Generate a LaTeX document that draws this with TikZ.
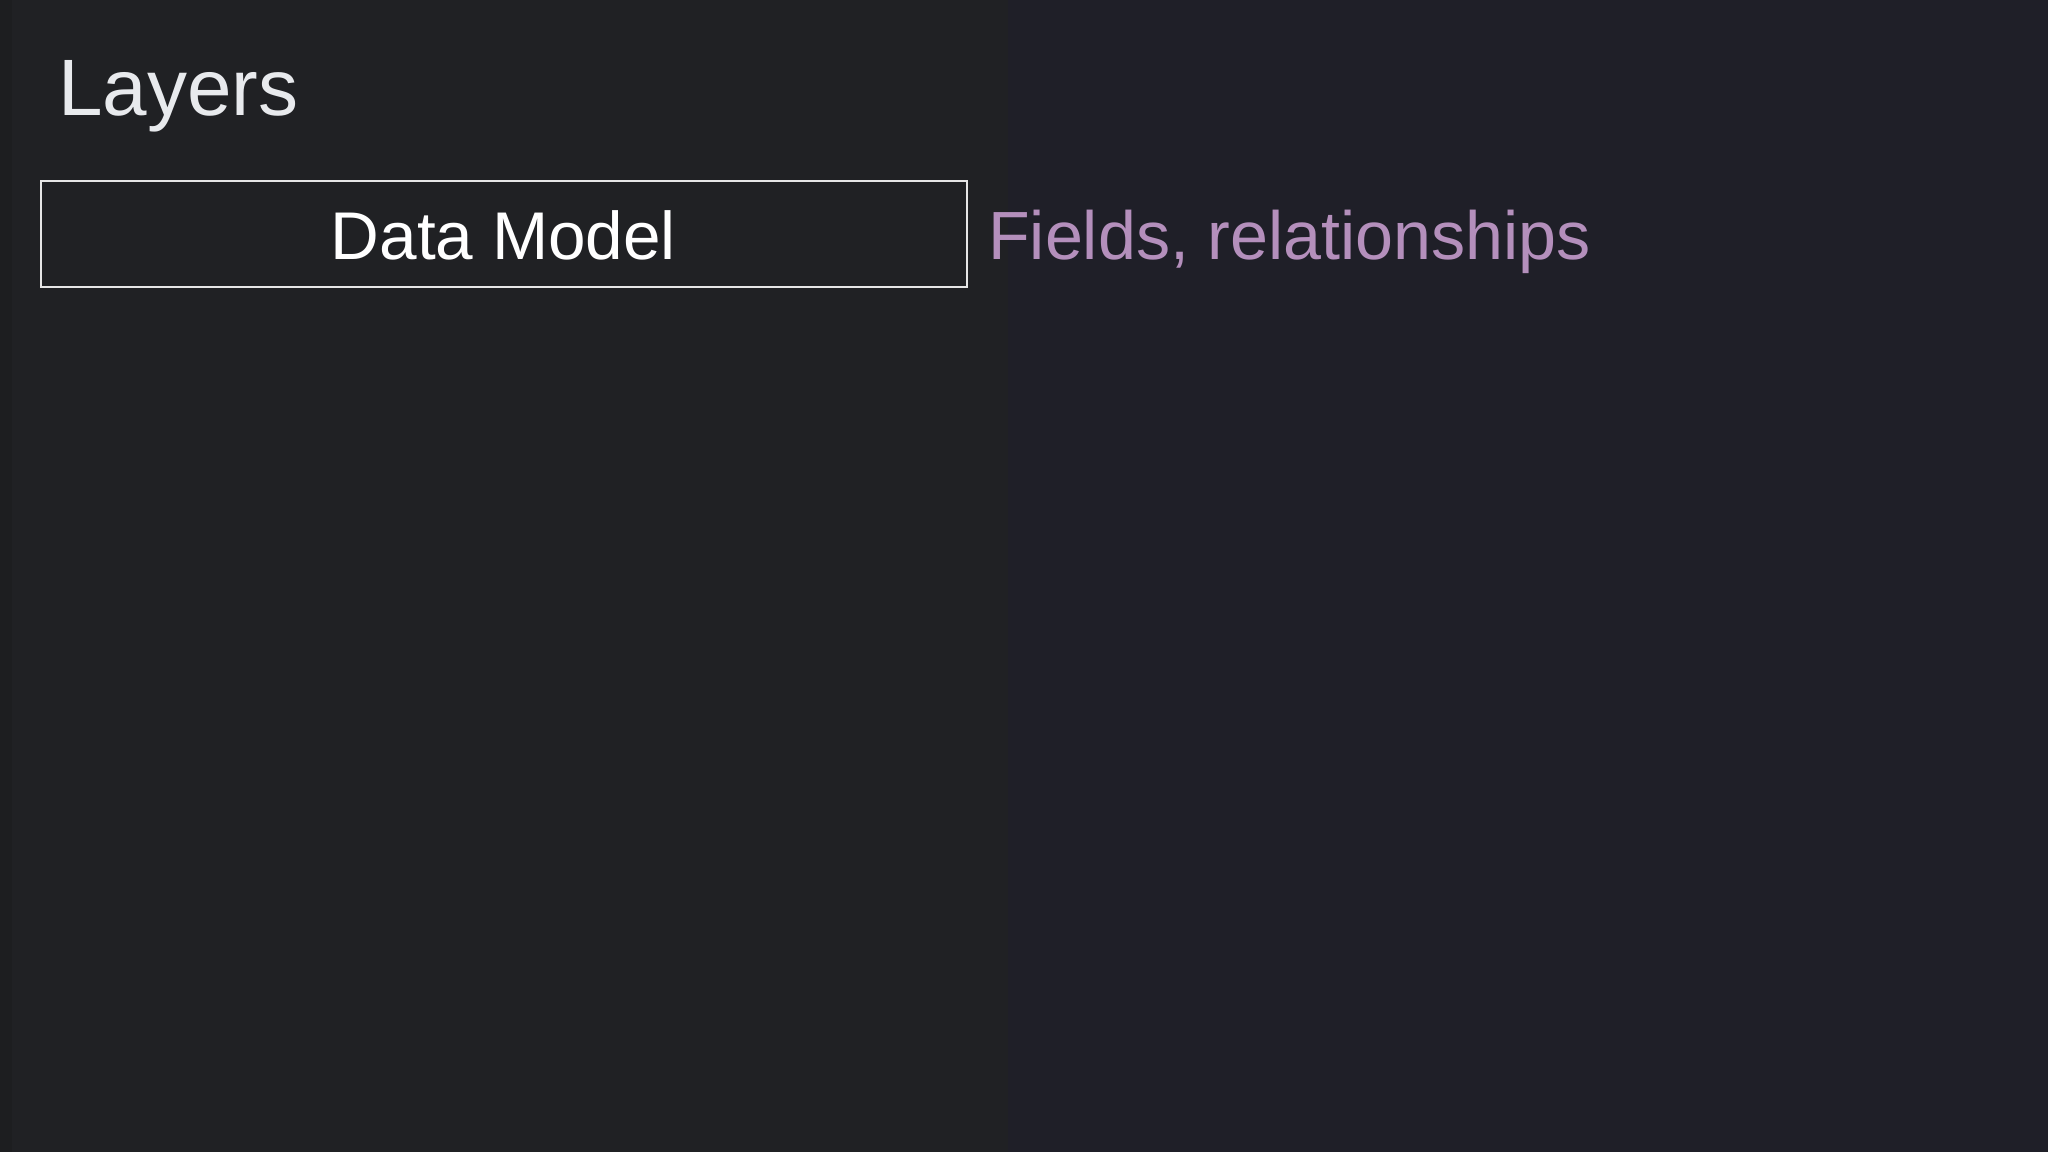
\documentclass[tikz,border=0pt]{standalone}
\usepackage{fontspec}
\setmainfont{Liberation Sans}
\definecolor{bgleft}{HTML}{202124}
\definecolor{bgright}{HTML}{1F1F28}
\definecolor{bgedge}{HTML}{1D1E20}
\definecolor{titlecol}{HTML}{E8EAED}
\definecolor{notecol}{HTML}{B48FBC}
\definecolor{boxline}{HTML}{E6E6E6}
\tikzset{
  layerbox/.style={draw=boxline, line width=2pt, fill=bgleft, inner sep=0pt,
    minimum width=926pt, minimum height=106pt, text=white,
    text height=50pt, text depth=0pt,
    font=\fontsize{67.5}{80}\selectfont},
  notetext/.style={anchor=base west, inner sep=0pt, text=notecol,
    font=\fontsize{68.2}{80}\selectfont},
  titletext/.style={anchor=base west, inner sep=0pt, text=titlecol,
    font=\fontsize{80}{96}\selectfont}
}
\begin{document}
\begin{tikzpicture}[x=1pt,y=-1pt]
\fill[bgleft] (0,0) rectangle (1008,1152);
\fill[bgright] (1008,0) rectangle (2048,1152);
\fill[bgedge] (0,0) rectangle (12,1152);
\useasboundingbox (0,0) rectangle (2048,1152);
\node[titletext] (title) at (58,115) {Layers};
\node[layerbox] (datamodel) at (503.5,234.4) {Data Model};
\node[notetext] (fields) at (988,259) {Fields, relationships};
\end{tikzpicture}
\end{document}
